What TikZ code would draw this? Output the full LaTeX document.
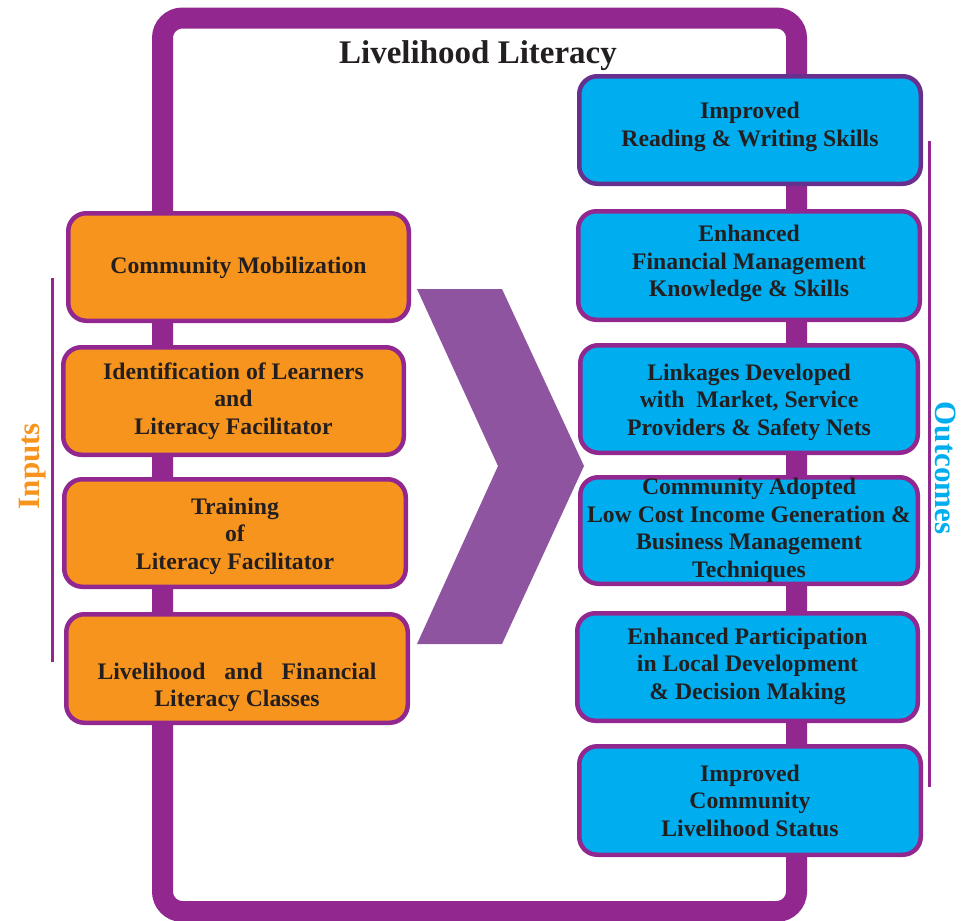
\documentclass[tikz,border=0pt]{standalone}
\usepackage{fontspec}
\setmainfont{Liberation Serif}
\definecolor{framepurple}{HTML}{92278F}
\definecolor{darkpurple}{HTML}{67308F}
\definecolor{chevpurple}{HTML}{8F54A0}
\definecolor{inorange}{HTML}{F7941D}
\definecolor{outblue}{HTML}{00AEEF}
\definecolor{txt}{HTML}{231F20}
\tikzset{
  basebox/.style={draw=framepurple, line width=4.5pt, rounded corners=18pt, inner sep=0pt},
  obox/.style={basebox, fill=inorange},
  bbox/.style={basebox, fill=outblue},
  boxtext/.style={font=\bfseries\fontsize{23.7}{27.5}\selectfont, text=txt, align=center, inner sep=0pt},
  sidelabel/.style={font=\bfseries\fontsize{31}{36}\selectfont, inner sep=0pt},
}
\begin{document}
\begin{tikzpicture}[x=1pt,y=-1pt]
\useasboundingbox (0,0) rectangle (964,921);
% outer frame
\draw[framepurple, line width=21pt, rounded corners=20pt] (162.5,18) rectangle (796.5,911.5);
\node[anchor=base, font=\bfseries\fontsize{33}{38}\selectfont, text=txt] (title) at (478,63) {Livelihood Literacy};
% chevron
\fill[chevpurple] (417,289) -- (502,289) -- (584,466) -- (502,644) -- (417,644) -- (498,466) -- cycle;
% side lines
\coordinate (inA) at (52.5,278);
\coordinate (inB) at (52.5,662);
\draw[framepurple, line width=3pt] (inA) -- (inB);
\coordinate (outA) at (929,141);
\coordinate (outB) at (929,787);
\draw[framepurple, line width=3pt] (outA) -- (outB);
\node[sidelabel, text=inorange, rotate=90, anchor=base] (inputs) at (39,466) {Inputs};
\node[sidelabel, text=outblue, rotate=-90, anchor=base] (outcomes) at (935,468) {Outcomes};
% left boxes
\node[obox, minimum width=340.5pt, minimum height=107.5pt,
  label={[boxtext,yshift=-1pt]center:Community Mobilization}] (l1) at (238.5,267) {};
\node[obox, minimum width=340.5pt, minimum height=107.5pt,
  label={[boxtext,yshift=0pt]center:{Identification of Learners\\and\\Literacy Facilitator}}] (l2) at (233.5,401) {};
\node[obox, minimum width=341.5pt, minimum height=107.5pt,
  label={[boxtext,yshift=-3pt]center:{Training\\of\\Literacy Facilitator}}] (l3) at (235,533) {};
\node[obox, minimum width=341.5pt, minimum height=108.5pt,
  label={[boxtext,yshift=-19pt]center:{\makebox[279pt][s]{Livelihood and Financial}\\Literacy Classes}}] (l4) at (237,668.5) {};
% right boxes
\node[bbox, draw=darkpurple, minimum width=341.5pt, minimum height=107.5pt,
  label={[boxtext,yshift=3pt]center:{Improved\\Reading \& Writing Skills}}] (r1) at (750,130) {};
\node[bbox, minimum width=341.5pt, minimum height=108.5pt,
  label={[boxtext,yshift=2pt]center:{Enhanced\\Financial Management\\Knowledge \& Skills}}] (r2) at (749,265.5) {};
\node[bbox, minimum width=337.5pt, minimum height=107.5pt,
  label={[boxtext,yshift=-3pt]center:{Linkages Developed\\with\ \ Market, Service\\Providers \& Safety Nets}}] (r3) at (749,399) {};
\node[bbox, minimum width=337.5pt, minimum height=106.5pt,
  label={[boxtext,yshift=0pt]center:{Community Adopted\\Low Cost Income Generation \&\\Business Management\\Techniques}}] (r4) at (749,530.5) {};
\node[bbox, minimum width=340.5pt, minimum height=107.5pt,
  label={[boxtext,yshift=1pt]center:{Enhanced Participation\\in Local Development\\\& Decision Making}}] (r5) at (747.5,667) {};
\node[bbox, minimum width=341.5pt, minimum height=108.5pt,
  label={[boxtext,yshift=0pt]center:{Improved\\Community\\Livelihood Status}}] (r6) at (750,800.5) {};
\end{tikzpicture}
\end{document}
